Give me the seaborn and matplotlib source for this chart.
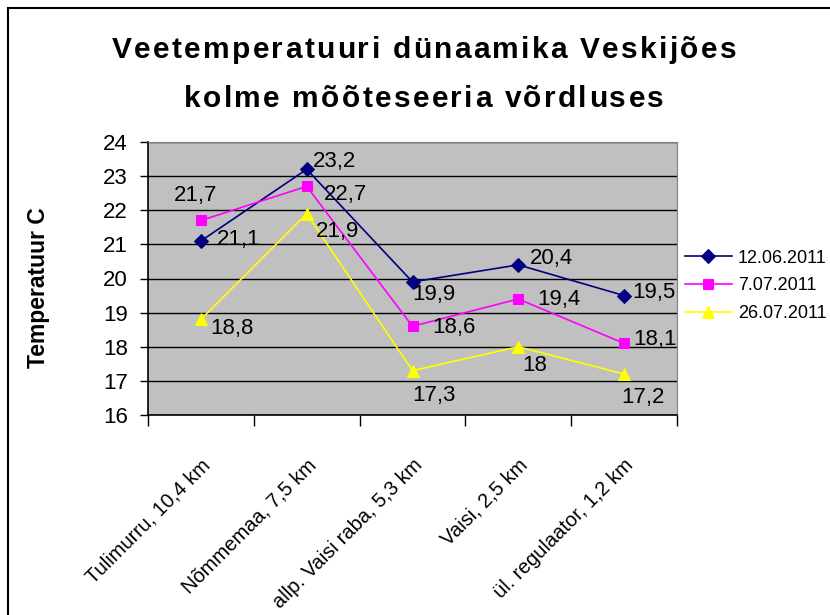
import seaborn as sns
import matplotlib.pyplot as plt
import matplotlib.patches as mpatches
import matplotlib.transforms as mtrans
from matplotlib.font_manager import FontProperties, findfont, get_font
import pandas as pd
import numpy as np

# data
sites = ['Tulimurru, 10,4 km', 'Nõmmemaa, 7,5 km', 'allp. Vaisi raba, 5,3 km',
         'Vaisi, 2,5 km', 'ül. regulaator, 1,2 km']
series = ['12.06.2011', '7.07.2011', '26.07.2011']
temp_0612 = [21.1, 23.2, 19.9, 20.4, 19.5]
temp_0707 = [21.7, 22.7, 18.6, 19.4, 18.1]
temp_2607 = [18.8, 21.9, 17.3, 18.0, 17.2]
title_lines = ['Veetemperatuuri dünaamika Veskijões', 'kolme mõõteseeria võrdluses']

colors = {'12.06.2011': '#000080', '7.07.2011': '#FF00FF', '26.07.2011': '#FFFF00'}
markers = {'12.06.2011': 'D', '7.07.2011': 's', '26.07.2011': '^'}
msize = {'12.06.2011': 7, '7.07.2011': 7.5, '26.07.2011': 9}

# label offsets in pixels (dx, dy down)
offsets = {
    '12.06.2011': [(38, -1), (28, -8), (21, 13), (33, -6), (30, -3)],
    '7.07.2011': [(-5, -25), (39, 8), (41, 1), (41, 1), (31, -4)],
    '26.07.2011': [(31, 9), (31, 18), (21, 25), (16, 19), (19, 23)],
}

df = pd.DataFrame({
    'site': sites * 3,
    'x': list(range(len(sites))) * 3,
    'temp': temp_0612 + temp_0707 + temp_2607,
    'series': [s for s in series for _ in sites],
})

plt.rcParams['font.family'] = ['Liberation Sans', 'DejaVu Sans']

W, H = 830, 615
fig = plt.figure(figsize=(W / 100, H / 100), dpi=100)
ax = fig.add_axes([148 / W, 1 - 415 / H, (677 - 148) / W, (415 - 142) / H])
ax.set_facecolor('#C0C0C0')

for s in series:
    sub = df[df['series'] == s]
    sns.lineplot(data=sub, x='x', y='temp', ax=ax, color=colors[s], marker=markers[s],
                 markersize=msize[s], markeredgecolor=colors[s], linewidth=1.2,
                 label=s, legend=False)
    for (xi, yi), (dx, dy) in zip(zip(sub['x'], sub['temp']), offsets[s]):
        txt = ('%g' % yi).replace('.', ',')
        ax.annotate(txt, (xi, yi), xytext=(dx * 0.72, -dy * 0.72), textcoords='offset points',
                    ha='center', va='center', fontsize=16, color='black')

ax.set_xlim(-0.5, 4.5)
ax.set_ylim(16, 24)
ax.set_yticks(np.arange(16, 25, 1))
ax.grid(axis='y', color='black', linewidth=1)
ax.set_axisbelow(True)
ax.set_xticks(range(len(sites)))
ax.set_xticklabels(sites, rotation=45, ha='right', va='top', rotation_mode='anchor', fontsize=14.5)
shift = mtrans.ScaledTranslation(-14 / 100, 0, fig.dpi_scale_trans)
for lab in ax.get_xticklabels():
    lab.set_transform(lab.get_transform() + shift)
ax.set_xticks(np.arange(-0.5, 5, 1), minor=True)
ax.tick_params(axis='x', which='major', length=0, pad=29)
ax.tick_params(axis='x', which='minor', length=8, direction='out', width=1)
ax.tick_params(axis='y', length=6, direction='out', width=1, labelsize=16, pad=8.5)
ax.set_xlabel('')
ax.set_ylabel('')
for sp in ['top', 'right']:
    ax.spines[sp].set_color('#808080')
for sp in ['left', 'bottom']:
    ax.spines[sp].set_color('black')
    ax.spines[sp].set_linewidth(1.2)

fig.text(39 / W, 1 - 288 / H, 'Temperatuur C', rotation=90, ha='center', va='center',
         fontsize=16.5, fontweight='bold')

# title with a bit of extra letter spacing like the excel original
tsize = 21.5
tprop = FontProperties(family='Liberation Sans', weight='bold', size=tsize)
tfont = get_font(findfont(tprop))
tfont.set_size(tsize, 100)
track = 2.3
for line, base in zip(title_lines, [58, 107]):
    adv = [tfont.load_char(ord(c)).linearHoriAdvance / 65536 for c in line]
    total = sum(adv) + track * (len(line) - 1)
    xpos = 424 - total / 2
    for c, a in zip(line, adv):
        if c != ' ':
            fig.text(xpos / W, 1 - base / H, c, fontproperties=tprop, ha='left', va='baseline')
        xpos += a + track

handles, labels = ax.get_legend_handles_labels()
fig.legend(handles, labels, loc='center left', bbox_to_anchor=(685 / W, 1 - 286 / H),
           frameon=False, fontsize=13, handlelength=2.6, handletextpad=0.33,
           labelspacing=0.6, borderpad=0, borderaxespad=0)

# chart border
fig.patches.append(mpatches.Rectangle((8 / W, -0.05), 1.0, 1 - 8 / H + 0.05,
                                      transform=fig.transFigure, fill=False,
                                      edgecolor='black', linewidth=1.5))

fig.savefig('out.png', dpi=100)
